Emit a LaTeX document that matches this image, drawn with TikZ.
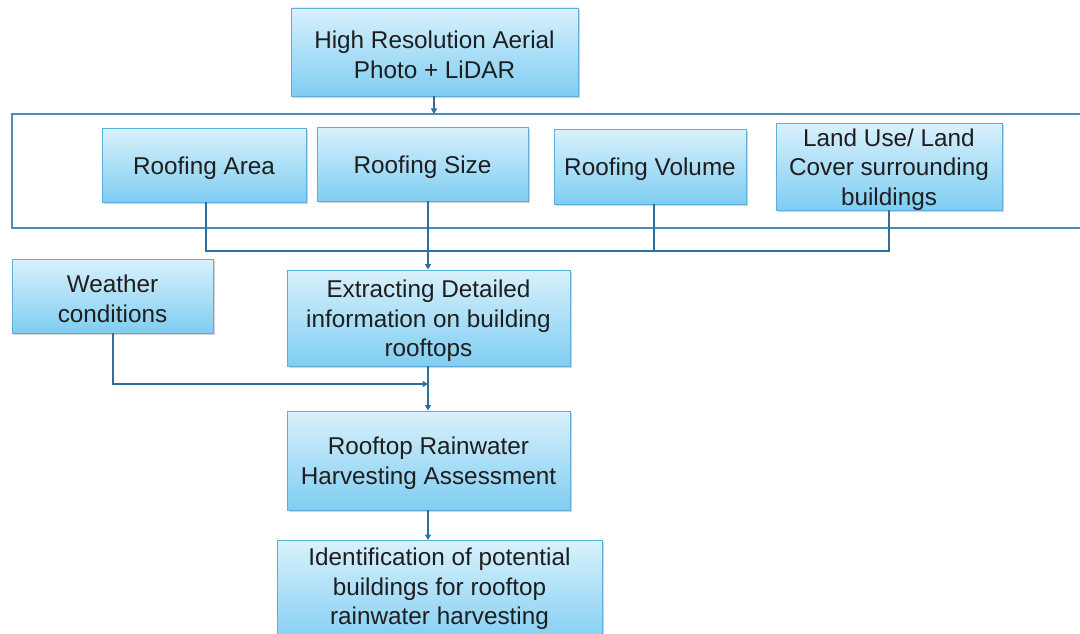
\documentclass[tikz,border=0pt]{standalone}
\usepackage{fontspec}
\setmainfont{Liberation Sans}
\usetikzlibrary{shadows,arrows.meta}
\definecolor{boxtop}{HTML}{D9F1FC}
\definecolor{boxbot}{HTML}{7FCDF2}
\definecolor{boxline}{HTML}{5BAFD8}
\definecolor{conn}{HTML}{2F6F9F}
\definecolor{frame}{HTML}{4B8DB8}
\definecolor{txt}{HTML}{1E1E1E}
\newcommand{\tstrut}{\rule{0pt}{23.5pt}}
\tikzset{
  pbox/.style={rectangle, draw=boxline, line width=0.9pt, top color=boxtop, bottom color=boxbot,
    align=center, text=txt, font=\fontsize{24.3}{29.5}\selectfont, inner sep=0pt,
    drop shadow={shadow xshift=1.5pt, shadow yshift=-2pt, opacity=0.35, fill=gray}},
  link/.style={draw=conn, line width=1.9pt},
  arr/.style={link, -{Triangle[length=5.5pt,width=6pt]}}
}
\begin{document}
\begin{tikzpicture}[x=1pt,y=-1pt]
\useasboundingbox (0,0) rectangle (1080,634);
% container
\draw[frame, line width=1.2pt] (1090,114) -- (12,114) -- (12,228) -- (1090,228);
% boxes
\node[pbox, minimum width=287pt, minimum height=88pt] (top) at (434.5,52) {\tstrut High Resolution Aerial\\Photo + LiDAR};
\node[pbox, minimum width=204pt, minimum height=74pt] (area) at (204,165) {\tstrut Roofing Area};
\node[pbox, minimum width=211pt, minimum height=74pt] (size) at (422.5,164) {\tstrut Roofing Size};
\node[pbox, minimum width=192pt, minimum height=75pt] (vol) at (650,166.5) {\tstrut Roofing Volume};
\node[pbox, minimum width=226pt, minimum height=87pt, text depth=1.4pt] (land) at (889,166.5) {\rule{0pt}{20pt}Land Use/ Land\\Cover surrounding\\buildings};
\node[pbox, minimum width=201pt, minimum height=74pt] (wea) at (112.5,296) {\tstrut Weather\\conditions};
\node[pbox, minimum width=283pt, minimum height=96pt] (ext) at (428.5,318) {\tstrut Extracting Detailed\\information on building\\rooftops};
\node[pbox, minimum width=283pt, minimum height=99pt] (rrh) at (428.5,460.5) {\tstrut Rooftop Rainwater\\Harvesting Assessment};
\node[pbox, minimum width=325pt, minimum height=106pt, text depth=14pt, anchor=north] (ident) at (439.5,540) {Identification of potential\\buildings for rooftop\\rainwater harvesting};
% connectors
\coordinate (cin) at (434,114);
\draw[arr] (top.south -| cin) -- (cin);
\coordinate (h1) at (206,251);
\draw[link] (area.south -| h1) -- (h1) -- (h1 -| land.south) coordinate (h2) -- (land.south -| h2);
\coordinate (vx) at (654,251);
\draw[link] (vol.south -| vx) -- (vx);
\coordinate (sx) at (428,0);
\draw[arr] (size.south -| sx) -- (ext.north -| sx);
\coordinate (w1) at (113,384);
\draw[arr] (wea.south -| w1) -- (w1) -- (w1 -| sx);
\draw[arr] (ext.south -| sx) -- (rrh.north -| sx);
\draw[arr] (rrh.south -| sx) -- (ident.north -| sx);
\end{tikzpicture}
\end{document}
